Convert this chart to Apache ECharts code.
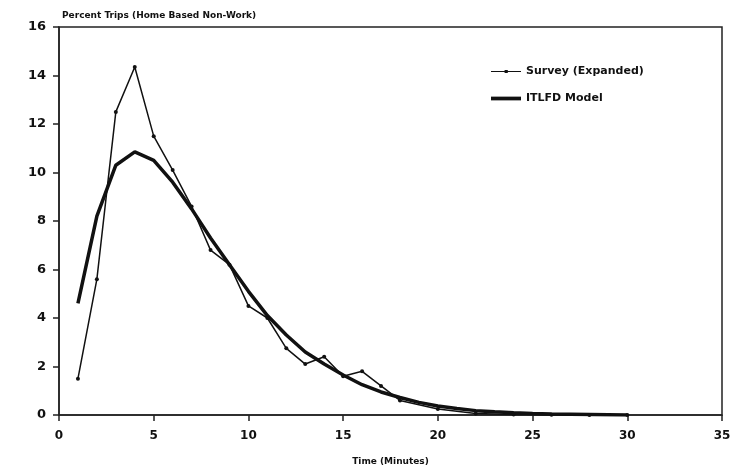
<!DOCTYPE html>
<html>
<head>
<meta charset="utf-8">
<script src="https://cdn.jsdelivr.net/npm/echarts@6/dist/echarts.min.js"></script>
<style>
  html, body { margin: 0; padding: 0; background: #fff; }
  #main { width: 738px; height: 471px; }
</style>
</head>
<body>
<div id="main"></div>
<script>
// minutes and percent of trips
const surveyMinutes = [1, 2, 3, 4, 5, 6, 7, 8, 9, 10, 11, 12, 13, 14, 15, 16, 17, 18, 20, 22, 24, 26, 28, 30];
const surveyPercent = [1.5, 5.6, 12.5, 14.35, 11.5, 10.1, 8.6, 6.8, 6.2, 4.5, 4.0, 2.75, 2.1, 2.4, 1.6, 1.8, 1.2, 0.6, 0.25, 0.06, 0.02, 0.01, 0, 0];

const modelMinutes = [1, 2, 3, 4, 5, 6, 7, 8, 9, 10, 11, 12, 13, 14, 15, 16, 17, 18, 19, 20, 21, 22, 23, 24, 25, 26, 27, 28, 29, 30];
const modelPercent = [4.6, 8.2, 10.3, 10.85, 10.5, 9.6, 8.5, 7.3, 6.2, 5.1, 4.1, 3.3, 2.6, 2.1, 1.65, 1.25, 0.95, 0.72, 0.52, 0.37, 0.27, 0.18, 0.13, 0.09, 0.06, 0.04, 0.03, 0.02, 0.01, 0];

const xTicks = [0, 5, 10, 15, 20, 25, 30, 35];
const yTicks = [0, 2, 4, 6, 8, 10, 12, 14, 16];

const pairs = (xs, ys) => xs.map((x, i) => [x, ys[i]]);

const chart = echarts.init(document.getElementById('main'));
const font = 'DejaVu Sans';

chart.setOption({
  animation: false,
  backgroundColor: '#fff',
  title: {
    text: 'Percent Trips (Home Based Non-Work)',
    left: 57,
    top: 6,
    textStyle: { fontFamily: font, fontWeight: 'bold', fontSize: 9, color: '#111' }
  },
  legend: {
    orient: 'vertical',
    left: 486,
    top: 61,
    width: 220,
    itemWidth: 30,
    itemHeight: 10,
    itemGap: 16,
    textStyle: { fontFamily: font, fontWeight: 'bold', fontSize: 11, color: '#111' },
    data: [
      { name: 'Survey (Expanded)', icon: 'path://M0,4.4h32v1.2h-32z M14.5,3.3h3.4v3.4h-3.4z', itemStyle: { color: '#111' } },
      { name: 'ITLFD Model', icon: 'path://M0,3h32v4h-32z', itemStyle: { color: '#111' } }
    ]
  },
  grid: {
    left: 59, right: 16, top: 27, bottom: 55,
    show: true, borderColor: '#222', borderWidth: 1.5
  },
  xAxis: {
    type: 'value',
    min: 0, max: 35, interval: 5,
    name: 'Time (Minutes)',
    nameLocation: 'middle',
    nameGap: 42,
    nameTextStyle: { fontFamily: font, fontWeight: 'bold', fontSize: 9, color: '#111' },
    axisLine: { lineStyle: { color: '#222', width: 1.5 } },
    axisTick: { show: true, length: 6, lineStyle: { color: '#222', width: 1.5 } },
    axisLabel: {
      margin: 15,
      fontFamily: font, fontWeight: 'bold', fontSize: 12, color: '#111',
      formatter: v => xTicks.includes(v) ? String(v) : ''
    },
    splitLine: { show: false }
  },
  yAxis: {
    type: 'value',
    min: 0, max: 16, interval: 2,
    axisLine: { show: true, lineStyle: { color: '#222', width: 1.5 } },
    axisTick: { show: true, length: 6, lineStyle: { color: '#222', width: 1.5 } },
    axisLabel: {
      margin: 13,
      fontFamily: font, fontWeight: 'bold', fontSize: 13, color: '#111',
      formatter: v => yTicks.includes(v) ? String(v) : ''
    },
    splitLine: { show: false }
  },
  series: [
    {
      name: 'Survey (Expanded)',
      type: 'line',
      data: pairs(surveyMinutes, surveyPercent),
      symbol: 'circle',
      symbolSize: 4,
      lineStyle: { color: '#111', width: 1.5 },
      itemStyle: { color: '#111' },
      z: 3
    },
    {
      name: 'ITLFD Model',
      type: 'line',
      data: pairs(modelMinutes, modelPercent),
      symbol: 'none',
      lineStyle: { color: '#111', width: 3.5 },
      itemStyle: { color: '#111' },
      z: 2
    }
  ]
});
</script>
</body>
</html>
